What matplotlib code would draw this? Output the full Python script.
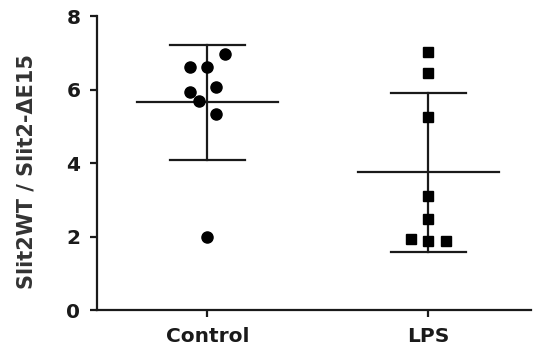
import numpy as np
import matplotlib
matplotlib.use("Agg")
import matplotlib.pyplot as plt

# Data
groups = ["Control", "LPS"]
control_vals = [6.97, 6.61, 6.61, 6.07, 5.93, 5.69, 5.33, 1.99]
control_dx = [0.08, -0.08, 0.0, 0.04, -0.08, -0.04, 0.04, 0.0]
lps_vals = [7.02, 6.45, 5.25, 3.10, 2.48, 1.93, 1.88, 1.88]
lps_dx = [0.0, 0.0, 0.0, 0.0, 0.0, -0.08, 0.0, 0.08]
y_ticks = [0, 2, 4, 6, 8]

plt.rcParams['font.family'] = ['DejaVu Sans']
ink = '#1a1a1a'

fig = plt.figure(figsize=(5.41, 3.49), dpi=100)
ax = fig.add_axes([0.1793, 0.1117, 0.8022, 0.8423])

series = [(control_vals, control_dx, 'o', 8), (lps_vals, lps_dx, 's', 7)]
for i, (vals, dx, marker, ms) in enumerate(series):
    vals = np.array(vals)
    xs = i + np.array(dx)
    ax.plot(xs, vals, linestyle='none', marker=marker, markersize=ms,
            color='black', zorder=3)
    m = vals.mean()
    sd = vals.std(ddof=1)
    # mean line
    ax.plot([i - 0.32, i + 0.32], [m, m], color=ink, lw=1.6, zorder=2)
    # SD whisker and caps
    ax.plot([i, i], [m - sd, m + sd], color=ink, lw=1.6, zorder=2)
    for y in (m - sd, m + sd):
        ax.plot([i - 0.17, i + 0.17], [y, y], color=ink, lw=1.6, zorder=2)

ax.set_xlim(-0.5, 1.465)
ax.set_ylim(0, 8)
ax.set_xticks([0, 1])
ax.set_xticklabels(groups, fontsize=14.5, fontweight='bold', color=ink)
ax.set_yticks(y_ticks)
ax.set_yticklabels([str(t) for t in y_ticks], fontsize=14.5, fontweight='bold', color=ink)
ax.tick_params(axis='both', length=5, width=1.6, color=ink)
ax.tick_params(axis='x', pad=7)
ax.tick_params(axis='y', pad=7)

ax.spines[['top', 'right']].set_visible(False)
for s in ('left', 'bottom'):
    ax.spines[s].set_linewidth(1.6)
    ax.spines[s].set_color(ink)

ax.set_ylabel('Slit2WT / Slit2-\u0394E15', fontsize=15, fontweight='bold',
              color='#333333', labelpad=12)
ax.yaxis.set_label_coords(-0.14, 0.47)

fig.savefig('out.png', dpi=100, facecolor='white')
